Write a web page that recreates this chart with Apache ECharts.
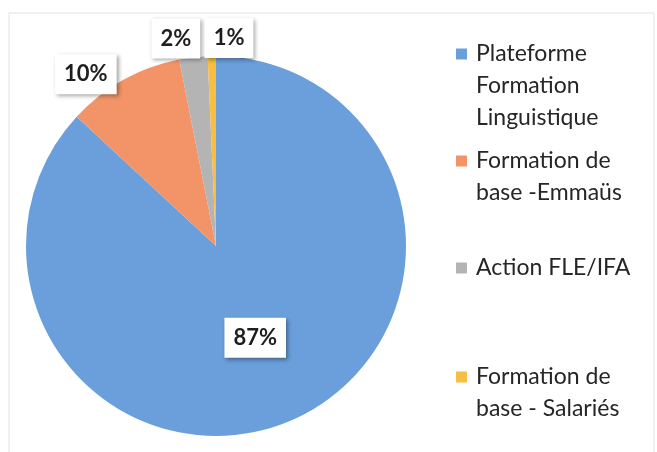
<!DOCTYPE html>
<html>
<head>
<meta charset="utf-8">
<script src="https://cdn.jsdelivr.net/npm/echarts@6/dist/echarts.min.js"></script>
<style>
  html, body { margin: 0; padding: 0; background: #fff; }
  #chart { width: 657px; height: 452px; }
</style>
</head>
<body>
<div id="chart"></div>
<script>
// ---- data ----
var categories = [
  'Plateforme Formation Linguistique',
  'Formation de base -Emmaüs',
  'Action FLE/IFA',
  'Formation de base - Salariés'
];
var values = [86.9, 10.0, 2.4, 0.7];
var legendLines = [
  ['Plateforme', 'Formation', 'Linguistique'],
  ['Formation de', 'base -Emmaüs'],
  ['Action FLE/IFA'],
  ['Formation de', 'base - Salariés']
];

// ---- styling / layout ----
var colors = ['#6A9FDB', '#F29468', '#B4B4B4', '#F7BE42'];
var legendFirstLineY = [54, 161, 268, 377];
var legendLineH = 32;
var labelShift = [[0, 2], [2, 10], [9, -1], [42, 0]];

var chart = echarts.init(document.getElementById('chart'), null, { renderer: 'canvas' });

var legends = categories.map(function (name, i) {
  var n = legendLines[i].length;
  var rich = {
    t: { fontFamily: 'Lato', fontSize: 23, lineHeight: legendLineH, color: '#262626' }
  };
  if (n > 1) {
    rich.sp = { fontSize: 4, lineHeight: (n - 1) * legendLineH, height: (n - 1) * legendLineH };
  }
  return {
    data: [name],
    orient: 'vertical',
    left: 456,
    top: legendFirstLineY[i] - (n - 0.5) * legendLineH,
    padding: 0,
    icon: 'rect',
    itemWidth: 11,
    itemHeight: 11,
    selectedMode: false,
    formatter: function () {
      var body = legendLines[i].map(function (s) { return '{t|' + s + '}'; }).join('\n');
      return (n > 1 ? '{sp| }\n' : '') + body;
    },
    textStyle: {
      fontFamily: 'Lato',
      fontSize: 23,
      lineHeight: legendLineH,
      color: '#262626',
      padding: [0, 0, 0, 4],
      rich: rich
    }
  };
});

var pieData = categories.map(function (name, i) {
  var item = { name: name, value: values[i], itemStyle: { color: colors[i] } };
  if (i === 0) item.label = { position: 'inside' };
  return item;
});

chart.setOption({
  animation: false,
  backgroundColor: '#ffffff',
  graphic: [{
    type: 'rect',
    shape: { x: 9, y: 13, width: 645, height: 480 },
    style: { fill: 'none', stroke: '#e2e2e2', lineWidth: 1 },
    silent: true
  }],
  legend: legends,
  series: [{
    type: 'pie',
    center: [216, 246],
    radius: 190,
    startAngle: 90,
    clockwise: true,
    percentPrecision: 0,
    avoidLabelOverlap: false,
    emphasis: { disabled: true },
    labelLine: { show: false, length: 18, length2: 0 },
    label: {
      show: true,
      position: 'outside',
      distanceToLabelLine: 0,
      formatter: '{d}%',
      fontFamily: 'Lato',
      fontWeight: 'bold',
      fontSize: 22,
      lineHeight: 24,
      color: '#1e1e1e',
      backgroundColor: '#ffffff',
      padding: [8, 9, 8, 9],
      shadowColor: 'rgba(0,0,0,0.35)',
      shadowBlur: 4,
      shadowOffsetX: 2,
      shadowOffsetY: 2
    },
    labelLayout: function (p) {
      return { dx: labelShift[p.dataIndex][0], dy: labelShift[p.dataIndex][1] };
    },
    data: pieData
  }]
});
</script>
</body>
</html>
